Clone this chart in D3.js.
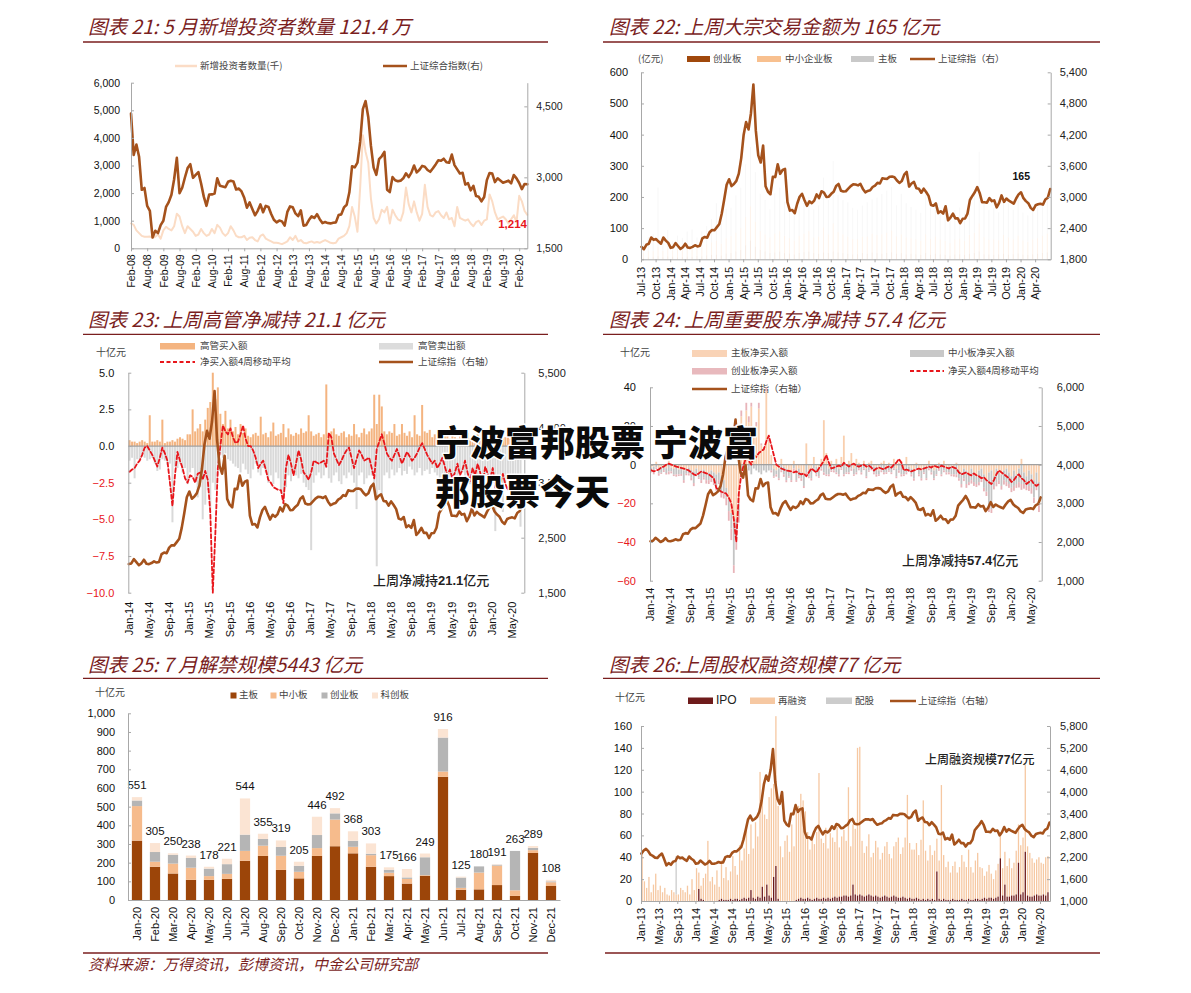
<!DOCTYPE html>
<html><head><meta charset="utf-8">
<script src="https://cdn.jsdelivr.net/npm/d3@7"></script>
<style>
body{margin:0;background:#fff;}
svg{display:block;background:#fff;}
</style></head><body>
<svg id="c" width="1191" height="993"></svg>
<script>
// ---------------- DATA ----------------
// Panel 21: monthly, Feb-08 .. May-20
const labels21 = ["Feb-08","Aug-08","Feb-09","Aug-09","Feb-10","Aug-10","Feb-11","Aug-11","Feb-12","Aug-12","Feb-13","Aug-13","Feb-14","Aug-14","Feb-15","Aug-15","Feb-16","Aug-16","Feb-17","Aug-17","Feb-18","Aug-18","Feb-19","Aug-19","Feb-20"];
const newInvestors = [
 900,850,650,550,450,420,420,430,380,420,500,
 350,650,780,700,650,800,1250,1150,800,550,800,700,
 600,450,500,700,550,450,500,700,550,850,750,550,
 450,550,800,650,450,400,400,450,300,380,400,300,
 250,450,500,350,300,250,200,200,180,150,200,250,
 400,300,450,250,300,200,180,220,250,200,230,200,
 250,300,250,200,180,200,350,400,450,550,800,1500,
 1150,600,2200,4100,3500,3100,1800,1100,900,1050,1400,1300,
 1500,900,1400,1200,1050,1000,1300,2200,1600,1300,1700,1300,
 1000,1250,2300,1500,1200,1150,1300,1350,1200,1100,1300,1050,
 1100,800,1500,1100,1050,1000,1050,900,800,950,1000,850,
 1000,1050,1950,1700,1300,1050,1100,1150,1050,900,1050,1200,
 950,1900,1700,1350,1214];
const sseMonthly = [
 4348,3473,3693,3433,2736,2775,2397,2293,1729,1871,1821,
 1991,2082,2373,2477,2633,2959,3412,2667,2779,2996,3195,3277,
 2989,3051,3110,2870,2592,2398,2638,2639,2656,2979,2820,2808,
 2791,2905,2928,2912,2743,2762,2701,2568,2359,2469,2333,2199,
 2292,2428,2262,2397,2373,2225,2103,2047,2086,2069,1980,2269,
 2385,2366,2237,2178,2301,1979,1994,2098,2175,2141,2220,2116,
 2033,2056,2033,2026,2039,2048,2202,2217,2364,2420,2683,3235,
 3210,3310,3748,4442,4612,4277,3664,3206,3053,3383,3445,3539,
 2738,2688,3004,2938,2917,2930,2979,3085,3005,3100,3250,3104,
 3159,3242,3223,3155,3117,3192,3273,3361,3349,3393,3317,3307,
 3481,3259,3169,3082,3095,2847,2876,2725,2821,2603,2588,2494,
 2585,2941,3091,3078,2899,2979,2933,2886,2905,2929,2871,3050,
 2977,2880,2750,2860,2852];

// SSE composite, two readings per month from Jan-13 (mid, end) + early Jul-20
const sseHalfMonth = [
 2300,2385,2430,2366,2270,2237,2190,2178,2250,2301,2150,1979,2040,1994,2080,2098,2220,2175,2190,2141,2100,2220,2160,2116,
 2020,2033,2110,2056,2000,2033,2100,2026,2020,2039,2070,2048,2060,2202,2230,2217,2320,2364,2360,2420,2480,2683,2950,3235,
 3340,3210,3250,3310,3450,3748,4200,4442,4300,4612,5166,4277,3800,3664,3990,3206,3100,3053,3390,3383,3630,3445,3520,3539,
 2900,2738,2750,2688,2870,3004,3060,2938,2830,2917,2880,2930,3050,2979,3110,3085,3000,3005,3060,3100,3210,3250,3120,3104,
 3110,3159,3210,3242,3240,3223,3250,3155,3090,3117,3130,3192,3220,3273,3260,3361,3350,3349,3390,3393,3380,3317,3270,3307,
 3430,3481,3200,3259,3290,3169,3160,3082,3160,3095,3020,2847,2830,2876,2690,2725,2680,2821,2550,2603,2680,2588,2590,2494,
 2580,2585,2680,2941,3020,3091,3190,3078,2900,2899,2890,2979,2920,2933,2800,2886,3030,2905,2970,2929,2900,2871,2970,3050,
 3090,2977,2920,2880,2790,2750,2840,2860,2870,2852,2950,2985,3152];

// Panel 22: monthly block trade amounts (亿元), Jul-13 .. Jun-20
const labels22 = ["Jul-13","Oct-13","Jan-14","Apr-14","Jul-14","Oct-14","Jan-15","Apr-15","Jul-15","Oct-15","Jan-16","Apr-16","Jul-16","Oct-16","Jan-17","Apr-17","Jul-17","Oct-17","Jan-18","Apr-18","Jul-18","Oct-18","Jan-19","Apr-19","Jul-19","Oct-19","Jan-20","Apr-20"];
const blockGem = [5,6,8,10,7,9, 8,6,7,9,8,10,9,12,14,15,12,18, 20,25,30,45,60,40,30,25,20,22,25,20, 18,15,20,22,25,20,18,22,20,25,22,20, 18,15,16,20,18,22,20,18,20,22,18,20, 15,18,16,14,20,15,18,16,14,12,15,16, 14,18,20,25,16,15,14,16,18,15,16,18, 15,14,16,18,20,22];
const blockSme = [15,20,18,30,20,25, 20,25,22,30,28,25,30,35,40,45,38,50, 55,60,70,90,110,80,60,55,50,60,65,55, 50,45,55,60,65,50,55,80,60,90,65,60, 55,50,48,52,55,60,58,62,65,70,55,60, 55,50,48,45,60,50,55,48,45,40,48,50, 45,60,65,90,55,48,50,45,60,55,48,58, 45,42,48,50,55,60];
const blockMain = [40,45,55,190,35,60, 30,45,40,50,60,35,50,60,75,120,80,95, 90,120,130,170,190,160,120,110,90,130,140,110, 90,80,95,100,110,90,100,160,110,200,120,110, 110,100,95,100,110,110,120,130,135,140,100,130, 110,100,95,90,130,100,110,95,90,85,95,100, 90,125,140,230,110,95,100,90,125,110,95,115, 90,85,95,100,105,120];

// Panels 23 & 24: two readings per month from Jan-14 (十亿元)
const labels2324 = ["Jan-14","May-14","Sep-14","Jan-15","May-15","Sep-15","Jan-16","May-16","Sep-16","Jan-17","May-17","Sep-17","Jan-18","May-18","Sep-18","Jan-19","May-19","Sep-19","Jan-20","May-20"];
const execBuy = [
 0.4,0.3,0.3,0.2,0.3,0.4,0.3,0.2,2.1,0.3,0.3,0.4,0.3,1.8,0.2,0.3,0.3,0.4,0.3,0.5,0.6,0.5,0.4,0.8,
 0.8,2.5,1.0,1.2,1.5,1.0,1.8,2.6,3.0,5.0,3.2,4.0,2.2,1.5,2.4,1.2,1.8,1.0,1.3,0.8,1.5,0.9,1.2,0.7,
 0.6,0.8,0.9,0.7,2.0,0.8,0.9,0.6,1.0,1.6,0.7,0.8,0.9,1.5,0.6,1.2,0.8,0.7,0.9,0.8,1.2,0.9,1.0,2.1,
 1.0,0.7,0.8,0.9,0.6,0.8,4.2,0.9,1.0,1.2,0.8,0.7,0.9,1.0,0.6,0.8,0.7,1.5,0.8,0.6,0.9,1.2,0.8,1.0,
 1.2,3.5,1.5,3.5,2.7,1.0,0.8,1.0,0.9,1.5,0.7,0.8,1.5,0.9,0.7,1.0,0.6,2.1,0.8,0.7,2.8,1.0,0.9,1.1,
 0.6,0.8,0.5,0.7,0.6,0.9,0.8,0.5,0.7,0.6,0.5,0.8,0.7,0.6,0.9,0.5,0.6,0.7,0.8,0.6,0.5,0.7,0.9,0.6,
 0.5,0.7,0.6,0.8,0.5,0.6,0.7,0.5,0.6,0.8,0.5,0.6];
const execSell = [
 -1.0,-0.8,-2.2,-0.9,-1.0,-0.7,-0.8,-1.0,-0.9,-0.8,-1.2,-1.7,-1.6,-0.9,-1.0,-1.3,-1.2,-5.2,-1.4,-1.5,-1.2,-1.8,-1.5,-2.6,
 -1.8,-1.5,-2.5,-3.5,-2.8,-5.0,-4.0,-3.0,-4.5,-2.5,-3.0,-2.0,-0.6,-0.8,-0.5,-0.9,-1.0,-1.2,-1.4,-1.5,-1.8,-1.2,-1.6,-1.9,
 -2.2,-1.6,-1.2,-1.8,-2.0,-1.5,-1.8,-2.5,-2.0,-2.6,-1.8,-2.2,-3.0,-3.6,-2.8,-2.0,-2.4,-1.8,-2.0,-2.2,-1.9,-2.5,-2.8,-3.0,
 -7.1,-2.5,-2.0,-1.8,-2.2,-2.0,-1.5,-2.2,-2.5,-2.0,-1.8,-2.4,-2.6,-2.0,-2.2,-1.8,-2.0,-2.5,-4.3,-2.0,-1.8,-2.6,-2.2,-2.0,
 -2.0,-2.5,-8.2,-3.0,-3.5,-2.0,-1.8,-2.2,-1.6,-2.0,-1.8,-1.5,-2.0,-1.7,-1.9,-1.4,-1.6,-2.0,-1.8,-1.5,-2.0,-1.7,-1.6,-1.9,
 -1.5,-1.8,-2.0,-2.5,-3.0,-2.6,-2.2,-2.8,-2.4,-2.0,-2.6,-2.2,-1.8,-2.4,-2.0,-2.6,-2.2,-1.8,-2.5,-2.0,-2.8,-2.2,-2.0,-2.5,
 -2.2,-5.8,-2.5,-3.0,-4.5,-2.5,-2.0,-2.8,-2.2,-2.5,-3.0,-5.5];
const execNetMA = [
 -1.75,-1.6,-1.5,-1.2,-1.0,-0.6,-0.1,0.0,-0.3,-0.6,-1.0,-1.4,-0.8,-0.1,-0.5,-1.0,-2.5,-4.1,-2.0,-0.4,-1.0,-1.5,-2.2,-2.5,
 -2.0,-2.1,-2.5,-1.9,-1.8,-2.3,-1.7,-2.3,-4.5,-10.0,-6.0,-1.5,0.0,1.4,1.0,0.8,1.2,0.6,0.2,0.3,0.8,1.4,0.5,0.0,
 0.0,-0.3,-0.8,-1.5,-1.2,-1.0,-1.6,-2.3,-2.5,-2.8,-2.9,-3.0,-3.0,-3.9,-1.5,-0.6,-1.2,-2.0,-1.2,-0.3,-0.9,-1.8,-2.0,-2.3,
 -1.8,-1.0,-1.1,-1.2,-1.1,-1.0,-1.4,0.9,0.6,-0.5,-0.9,-1.3,-1.0,-0.6,-0.3,-0.1,-0.8,-1.5,-0.9,-0.3,-0.6,-1.0,-0.9,-0.8,
 -1.5,-2.2,-0.2,0.3,0.8,0.2,-0.5,-0.8,-1.0,-0.6,-0.2,-0.7,-1.2,-0.8,-0.4,-0.7,-1.0,-0.8,-0.5,-0.1,0.2,-0.2,-0.6,-0.9,
 -1.2,-1.0,-1.5,-1.2,-0.8,-1.4,-2.0,-1.6,-2.2,-1.8,-1.2,-2.0,-1.6,-1.0,-1.8,-2.4,-1.5,-2.0,-1.2,-1.8,-2.6,-1.4,-1.9,-2.2,
 -1.5,-2.8,-3.2,-2.5,-1.9,-2.6,-3.0,-2.2,-2.8,-3.4,-3.0,-3.6];

const holderMain = [
 -1.5,-1.0,1.5,-2.0,-1.2,-0.8,-1.8,2.0,-1.5,-2.2,-1.0,-2.5,-1.8,-3.0,-2.2,-1.5,-2.8,-3.5,-2.0,-4.0,-3.0,-2.5,-5.0,-4.0,
 -3,-4,-5,-4,-6,-8,-12,-18,-25,-30,-28,-20,25,18,28,22,30,15,20,29,10,8,38,12,
 5,-2,-3,-2,3,-1,-2,-3,-4,2,-3,-2,-4,-5,11,-3,-2,4,-1,-3,3,23,6,-2,
 2,-1,3,-2,4,15,-1,2,6,-2,3,1,-1,2,-2,1,2,-1,-1,-3,1,2,-2,1,
 -1,3,-2,1,2,-2,4,-1,-2,-3,1,-2,-3,-1,-2,2,-1,-3,-2,1,-1,2,-2,-1,
 -1,-2,1,-3,-4,-2,-3,-5,-2,-4,-6,-3,-2,-5,-8,-4,-3,-6,-2,-4,-5,-3,-2,-4,
 -6,-3,-5,-2,3,-4,-6,-3,-5,-8,-4,-9];
const holderSme = [
 -2,-3,-1.5,-2.5,-3,-2,-2.5,-3.5,-2,-3,-4,-2.5,-3,-5,-2.5,-3,-4,-6,-3,-2.5,-5,-4,-3,-4,
 -4,-5,-6,-4,-8,-6,-5,-6,-8,-22,-10,-6,-3,-2,-4,-3,-5,-2,-3,-4,-5,-3,-4,-3,
 -3,-4,-2,-5,-3,-4,-6,-3,-4,-2,-5,-4,-3,-6,-4,-3,-5,-2,-4,-3,-2,-4,-5,-3,
 -3,-2,-4,-3,-2,-5,-3,-4,-2,-3,-4,-2,-3,-2,-4,-3,-2,-3,-4,-2,-3,-4,-2,-3,
 -3,-2,-4,-3,-5,-3,-4,-2,-3,-4,-2,-3,-4,-3,-5,-2,-3,-4,-3,-2,-4,-3,-2,-3,
 -4,-3,-5,-4,-6,-5,-7,-4,-6,-5,-4,-6,-5,-7,-6,-18,-20,-5,-7,-4,-6,-5,-7,-6,
 -6,-8,-5,-7,-10,-6,-5,-8,-7,-9,-6,-12];
const holderGem = [
 -0.5,-1,-0.8,-1.2,-0.6,-1,-0.8,-1.5,-1,-0.7,-1.2,-0.9,-1,-1.4,-0.8,-1.1,-1.3,-1.6,-1,-0.9,-1.5,-1.2,-1.8,-2,
 -2,-1.5,-2.5,-2,-3,-3.5,-4,-5,-6,-4,-6,-4,3,2,4,3,2,1,2,3,1,1,2,1,
 -1,-0.8,-1.2,-1,-0.9,-1.3,-1.1,-0.8,-1,-1.2,-0.9,-1,-1.4,-1.1,-0.8,-1,-1.2,-0.9,-1,-0.8,-1.1,-1.3,-0.9,-1,
 -0.8,-1,-0.9,-1.1,-0.7,-1,-0.8,-0.9,-1.2,-0.8,-1,-0.9,-1.1,-0.8,-1,-0.7,-0.9,-1,-1.2,-0.8,-0.9,-1,-0.8,-0.7,
 -0.9,-0.8,-1,-1.2,-1.1,-0.9,-1,-0.8,-1.1,-1.3,-0.9,-1,-1.2,-0.8,-1,-0.9,-1.1,-1,-0.8,-1.2,-1,-0.9,-1.1,-1,
 -1,-1.2,-1.5,-1.3,-1.8,-1.5,-2,-1.6,-1.8,-2,-1.5,-1.7,-2,-1.8,-2.2,-2.5,-2,-1.8,-2.2,-2,-1.9,-2.3,-2.1,-2,
 -2.2,-2.5,-2,-2.8,-3,-2.4,-2.2,-2.6,-3,-2.8,-3.2,-3.5];
const holderNetMA = [
 -2.9,-3.5,-3.0,-2.5,-1.5,-1.0,0.0,0.5,0.0,-0.5,-1.0,-1.3,-1.7,-2.0,-2.5,-3.0,-4.0,-5.0,-5.5,-4.5,-3.5,-4.0,-4.5,-5.0,
 -6.0,-7.0,-12.0,-13.0,-14.0,-14.5,-15.0,-17.0,-20.0,-28.0,-40.0,-15.0,-5.0,0.0,4.0,2.0,0.0,5.0,4.0,6.0,7.0,8.0,12.0,15.0,
 10.0,5.0,0.0,-1.0,-2.0,-2.5,-3.0,-3.2,-3.5,-4.0,-3.5,-4.5,-5.0,-4.5,-6.0,-4.0,-2.0,-3.0,-4.0,-2.0,0.0,2.0,5.0,1.0,
 -2.0,-1.5,-1.0,-0.5,-1.0,1.0,0.0,-1.0,0.0,0.5,-0.5,-1.0,-0.5,0.0,-1.0,-0.5,-1.5,-3.0,-2.0,-1.5,-2.0,-2.5,-1.5,-1.0,
 -1.5,0.0,1.0,3.0,1.0,-3.0,-2.5,-3.0,-3.5,-3.0,-2.5,-2.0,-2.5,-2.0,-1.5,-1.0,-1.5,-0.5,-1.0,-1.5,-0.5,-1.0,-1.5,-2.0,
 -1.0,-1.5,-2.0,-4.0,-5.0,-4.5,-4.0,-5.0,-5.5,-4.5,-5.5,-6.0,-7.0,-6.5,-8.0,-9.0,-10.0,-8.0,-5.0,-3.0,-4.0,-5.0,-6.0,-7.0,
 -9.0,-8.0,-6.0,-5.0,-7.0,-8.0,-10.0,-9.0,-8.0,-10.0,-11.0,-10.0];

// Panel 25: monthly lifting of lock-ups (十亿元)
const months25 = ["Jan-20","Feb-20","Mar-20","Apr-20","May-20","Jun-20","Jul-20","Aug-20","Sep-20","Oct-20","Nov-20","Dec-20","Jan-21","Feb-21","Mar-21","Apr-21","May-21","Jun-21","Jul-21","Aug-21","Sep-21","Oct-21","Nov-21","Dec-21"];
const unlockMain = [318,178,142,108,108,113,210,236,161,116,236,288,250,178,128,88,130,660,55,57,80,22,252,75];
const unlockSme  = [185,27,53,65,20,27,53,55,76,35,42,143,35,62,18,25,3,28,10,90,104,30,15,20];
const unlockGem  = [30,52,47,52,40,52,87,36,47,32,70,33,32,8,16,8,96,182,55,33,5,211,12,5];
const unlockStar = [18,48,8,13,10,29,194,28,35,22,98,28,51,55,13,45,20,46,5,0,2,0,10,8];
const unlockTotal = [551,305,250,238,178,221,544,355,319,205,446,492,368,303,175,166,249,916,125,180,191,263,289,108];

// Panel 26: two readings per month from Jan-13 (十亿元)
const labels26 = ["Jan-13","May-13","Sep-13","Jan-14","May-14","Sep-14","Jan-15","May-15","Sep-15","Jan-16","May-16","Sep-16","Jan-17","May-17","Sep-17","Jan-18","May-18","Sep-18","Jan-19","May-19","Sep-19","Jan-20","May-20"];
const ipoAmt = [
 0,0,0,0,0,0,0,0,0,0,0,0,0,0,0,0,0,0,0,0,0,0,0,0,
 0,11,2,1,0,0,0,0,0,0,1,2,1,1,1,2,1,2,2,1,2,3,2,3,
 10,3,2,4,3,13,4,15,5,3,22,32,2,0,0,0,0,0,0,0,1,2,3,2,
 2,3,2,1,2,3,2,2,3,2,3,2,3,4,3,4,4,5,5,4,5,15,6,5,
 6,5,4,5,6,5,4,5,4,3,4,5,4,3,4,5,4,3,3,4,3,2,3,2,
 2,3,2,1,2,1,2,1,2,1,27,2,1,2,1,1,1,2,1,1,1,2,1,1,
 2,1,1,2,2,1,2,3,2,3,3,2,3,4,39,5,15,4,4,5,5,6,35,6,
 8,45,5,4,4,5,6,5,5,6,5,8];
const refiAmt = [
 45,18,12,22,8,15,25,10,14,8,12,6,5,10,8,6,6,12,10,8,14,6,20,10,
 30,15,12,20,25,55,18,22,15,28,12,35,20,30,18,25,40,30,22,50,35,45,65,40,
 60,45,70,55,115,80,75,60,90,100,85,137,85,50,40,55,60,45,70,50,80,85,95,90,
 80,60,45,55,50,60,115,55,50,65,45,60,55,50,65,45,55,60,50,100,45,55,60,135,
 135,50,40,45,55,35,40,50,45,35,40,45,50,40,35,45,50,55,40,45,55,95,50,45,
 45,50,40,55,90,45,35,50,40,45,30,35,105,40,30,35,25,30,35,25,30,40,35,30,
 45,30,25,35,42,30,28,20,25,30,22,18,25,30,20,25,30,28,35,25,30,40,35,45,
 50,80,45,40,35,30,32,35,30,28,35,33];
const rightsIdx = [15];
const rightsAmt = [35];

// ---------------- STYLE CONSTANTS ----------------
const NUMF = "'Liberation Sans', Arial, sans-serif";
const CNF = "'Noto Sans CJK SC', sans-serif";
const TITLE_C = "#7a1e1e";
const BROWN = "#a5521c";
const RED = "#e8161b";
const AXIS_C = "#a8a8a8";

const svg = d3.select("#c");
svg.append("rect").attr("width",1191).attr("height",993).attr("fill","#fff");

function txt(x, y, s, o = {}) {
  return svg.append("text").attr("x", x).attr("y", y).text(s)
    .attr("font-family", o.ff || CNF).attr("font-size", o.fs || 10)
    .attr("fill", o.fill || "#333").attr("font-weight", o.fw || "normal")
    .attr("font-style", o.it ? "italic" : "normal")
    .attr("text-anchor", o.anchor || "start")
    .attr("dominant-baseline", o.db || "auto");
}
function hline(x1, x2, y, c, w) {
  svg.append("line").attr("x1", x1).attr("x2", x2).attr("y1", y).attr("y2", y).attr("stroke", c).attr("stroke-width", w || 1);
}
function title(x, y, s, lx1, lx2, ly) {
  txt(x, y, s, {fs: 19.5, fill: TITLE_C, it: true});
  hline(lx1, lx2, ly, TITLE_C, 1.3);
}
function styleAxis(g, size, colorFn) {
  g.attr("font-family", NUMF).attr("font-size", size);
  g.select(".domain").attr("stroke", AXIS_C);
  g.selectAll(".tick line").attr("stroke", AXIS_C);
  g.selectAll(".tick text").attr("fill", d => colorFn ? colorFn(d) : "#111");
}
function yAxisL(scale, x, vals, fmt, size, pad, colorFn) {
  const g = svg.append("g").attr("transform", `translate(${x},0)`)
    .call(d3.axisLeft(scale).tickValues(vals).tickFormat(fmt).tickSizeInner(-3).tickSizeOuter(0).tickPadding(pad));
  styleAxis(g, size, colorFn);
  return g;
}
function yAxisR(scale, x, vals, fmt, size, pad) {
  const g = svg.append("g").attr("transform", `translate(${x},0)`)
    .call(d3.axisRight(scale).tickValues(vals).tickFormat(fmt).tickSizeInner(-3).tickSizeOuter(0).tickPadding(pad));
  styleAxis(g, size, () => "#222");
  return g;
}
function xAxisB(scale, y, vals, labels, size, gap, showDomain, tickLen) {
  const g = svg.append("g").attr("transform", `translate(0,${y})`)
    .call(d3.axisBottom(scale).tickValues(vals).tickFormat((d, i) => labels[i]).tickSizeInner(tickLen).tickSizeOuter(0));
  styleAxis(g, size);
  if (!showDomain) g.select(".domain").attr("stroke", "none");
  g.selectAll(".tick text").attr("transform", "rotate(-90)").attr("text-anchor", "end")
    .attr("x", -gap).attr("y", 0).attr("dy", "0.35em");
  return g;
}
function legRect(x, y, w, h, c) { svg.append("rect").attr("x", x).attr("y", y).attr("width", w).attr("height", h).attr("fill", c); }
function legLine(x1, x2, y, c, w, dash) {
  const l = svg.append("line").attr("x1", x1).attr("x2", x2).attr("y1", y).attr("y2", y).attr("stroke", c).attr("stroke-width", w);
  if (dash) l.attr("stroke-dasharray", dash);
}
function drawPath(data, xf, yf, color, width, dash) {
  const p = svg.append("path").datum(data)
    .attr("d", d3.line().x(xf).y(yf))
    .attr("fill", "none").attr("stroke", color).attr("stroke-width", width)
    .attr("stroke-linejoin", "round").attr("stroke-linecap", "round");
  if (dash) p.attr("stroke-dasharray", dash);
  return p;
}
const fmtComma = d3.format(",");
const sseT = sseHalfMonth.map((v, k) => ({t: k * 0.5 + 0.1, v}));

// ================= PANEL 21 =================
title(88, 34, "图表 21: 5 月新增投资者数量 121.4 万", 83, 548, 42);
legLine(175, 197, 66, "#fbdcc6", 2.5);
txt(200, 66, "新增投资者数量(千)", {fs: 9.5, db: "middle", fill: "#444"});
legLine(383, 407, 66, BROWN, 2.5);
txt(410, 66, "上证综合指数(右)", {fs: 9.5, db: "middle", fill: "#444"});
{
  const x = d3.scaleLinear().domain([0, 147]).range([131, 527.3]);
  const yL = d3.scaleLinear().domain([0, 6000]).range([248.3, 82.7]);
  const yR = d3.scaleLinear().domain([1500, 5000]).range([248.3, 82.7]);
  drawPath(newInvestors, (d, i) => x(i), d => yL(d), "#fbdcc5", 2);
  drawPath(sseMonthly, (d, i) => x(i), d => yR(d), BROWN, 2.6);
  yAxisL(yL, 131, d3.range(0, 6001, 1000), fmtComma, 10.5, 11);
  yAxisR(yR, 527.3, [1500, 3000, 4500], fmtComma, 10.5, 9);
  xAxisB(x, 248.3, d3.range(0, 145, 6), labels21, 10.5, 6, true, 3);
  txt(527, 227.7, "1,214", {ff: NUMF, fs: 11.5, fw: "bold", fill: RED, anchor: "end"});
}

// ================= PANEL 22 =================
title(609, 34, "图表 22: 上周大宗交易金额为 165 亿元", 603, 1100, 42);
txt(638, 59, "(亿元)", {fs: 9.5, db: "middle", fill: "#444"});
legRect(687, 56, 23, 6, "#a0480c"); txt(713, 59, "创业板", {fs: 9.5, db: "middle", fill: "#444"});
legRect(757, 56, 24, 6, "#f8c08f"); txt(785, 59, "中小企业板", {fs: 9.5, db: "middle", fill: "#444"});
legRect(851, 56, 23, 6, "#c9c9c9"); txt(878, 59, "主板", {fs: 9.5, db: "middle", fill: "#444"});
legLine(910, 935, 59, BROWN, 2.5); txt(938, 59, "上证综指（右）", {fs: 9.5, db: "middle", fill: "#444"});
{
  const x = d3.scaleLinear().domain([6, 90.2]).range([641, 1050.7]);
  const yL = d3.scaleLinear().domain([0, 600]).range([259.3, 72.3]);
  const yR = d3.scaleLinear().domain([1800, 5400]).range([259.3, 72.3]);
  const rows = blockMain.map((v, m) => ({t: 6 + m + 0.5, gem: blockGem[m], sme: blockSme[m], main: v}));
  const stack = d3.stack().keys(["gem", "sme", "main"])(rows);
  const cols = {gem: "#d0976c", sme: "#f6c49a", main: "#d6d6d6"};
  stack.forEach(s => {
    svg.append("g").selectAll("rect").data(s).join("rect")
      .attr("x", d => x(d.data.t) - 0.5).attr("width", 1)
      .attr("y", d => yL(d[1])).attr("height", d => yL(d[0]) - yL(d[1]))
      .attr("fill", cols[s.key]).attr("opacity", 0.2);
  });
  drawPath(sseT.filter(d => d.t >= 6), d => x(d.t), d => yR(d.v), BROWN, 2.6);
  yAxisL(yL, 641, d3.range(0, 601, 100), d3.format("d"), 11, 13);
  yAxisR(yR, 1050.7, d3.range(1800, 5401, 600), fmtComma, 11, 9);
  xAxisB(x, 259.3, d3.range(6, 88, 3), labels22, 11, 7.5, true, 3);
  txt(1030, 179.5, "165", {ff: NUMF, fs: 10.5, fw: "bold", fill: "#111", anchor: "end"});
}

// ================= PANEL 23 =================
title(88, 327, "图表 23: 上周高管净减持 21.1 亿元", 83, 548, 334.3);
txt(96, 353, "十亿元", {fs: 10, db: "middle", fill: "#444"});
legRect(160, 343, 35, 6.5, "#f4b480"); txt(200, 346, "高管买入额", {fs: 9.5, db: "middle", fill: "#444"});
legRect(379, 343, 34, 6.5, "#dcdcdc"); txt(418, 346, "高管卖出额", {fs: 9.5, db: "middle", fill: "#444"});
legLine(160, 195, 362, RED, 1.8, "4,2.5"); txt(200, 362, "净买入额4周移动平均", {fs: 9.5, db: "middle", fill: "#444"});
legLine(379, 413, 362, BROWN, 2.5); txt(418, 362, "上证综指（右轴）", {fs: 9.5, db: "middle", fill: "#444"});
{
  const x = d3.scaleLinear().domain([12, 90.5]).range([128.3, 524.3]);
  const yL = d3.scaleLinear().domain([-10, 5]).range([592.7, 372.7]);
  const yR = d3.scaleLinear().domain([1500, 5500]).range([592.7, 372.7]);
  const tt = i => 12 + i * 0.5 + 0.25;
  svg.append("g").selectAll("rect").data(execSell).join("rect")
    .attr("x", (d, i) => x(tt(i)) - 1).attr("width", 2)
    .attr("y", yL(0)).attr("height", d => yL(d) - yL(0)).attr("fill", "#d9d9d9");
  svg.append("g").selectAll("rect").data(execBuy).join("rect")
    .attr("x", (d, i) => x(tt(i)) - 1).attr("width", 2)
    .attr("y", d => yL(d)).attr("height", d => yL(0) - yL(d)).attr("fill", "#f4b480");
  hline(128.3, 524.3, yL(0), "#a0a0a0", 1.2);
  drawPath(execNetMA, (d, i) => x(tt(i)), d => yL(d), RED, 1.8, "4,2.5");
  drawPath(sseT.filter(d => d.t >= 12), d => x(d.t), d => yR(d.v), BROWN, 2.6);
  yAxisL(yL, 128.3, d3.range(-10, 5.01, 2.5), d3.format(".1f"), 11, 14, d => d < 0 ? RED : "#111");
  yAxisR(yR, 524.3, [1500, 2500, 3500, 4500, 5500], fmtComma, 11, 14);
  xAxisB(x, 592.7, d3.range(12, 89, 4), labels2324, 11, 9, false, 0);
  const a = txt(373, 585, "", {fs: 13, fill: "#222"});
  a.append("tspan").attr("font-weight", 500).text("上周净减持");
  a.append("tspan").attr("font-family", NUMF).attr("font-weight", "bold").text("21.1");
  a.append("tspan").attr("font-weight", 500).text("亿元");
}

// ================= PANEL 24 =================
title(609, 327, "图表 24: 上周重要股东净减持 57.4 亿元", 603, 1100, 334.3);
txt(620, 353, "十亿元", {fs: 10, db: "middle", fill: "#444"});
legRect(692, 350, 35, 7, "#f9d3b6"); txt(731, 353.5, "主板净买入额", {fs: 9.5, db: "middle", fill: "#444"});
legRect(910, 350, 34, 7, "#c8c8c8"); txt(948, 353.5, "中小板净买入额", {fs: 9.5, db: "middle", fill: "#444"});
legRect(692, 368, 35, 6.5, "#e8b9bd"); txt(731, 371, "创业板净买入额", {fs: 9.5, db: "middle", fill: "#444"});
legLine(910, 944, 371, RED, 1.8, "4,2.5"); txt(948, 371, "净买入额4周移动平均", {fs: 9.5, db: "middle", fill: "#444"});
legLine(692, 727, 389, BROWN, 2.5); txt(731, 389, "上证综指（右轴）", {fs: 9.5, db: "middle", fill: "#444"});
{
  const x = d3.scaleLinear().domain([12, 90.3]).range([650, 1041.7]);
  const yL = d3.scaleLinear().domain([-60, 40]).range([580.7, 387.3]);
  const yR = d3.scaleLinear().domain([1000, 6000]).range([580.7, 387.3]);
  const tt = i => 12 + i * 0.5 + 0.25;
  const rows = holderMain.map((v, i) => ({t: tt(i), main: v, sme: holderSme[i], gem: holderGem[i]}));
  const stack = d3.stack().keys(["main", "sme", "gem"]).offset(d3.stackOffsetDiverging)(rows);
  const cols = {main: "#f9cfae", sme: "#c4c4c4", gem: "#e8b4b9"};
  stack.forEach(s => {
    svg.append("g").selectAll("rect").data(s).join("rect")
      .attr("x", d => x(d.data.t) - 0.9).attr("width", 1.8)
      .attr("y", d => yL(Math.max(d[0], d[1]))).attr("height", d => Math.abs(yL(d[0]) - yL(d[1])))
      .attr("fill", cols[s.key]);
  });
  hline(650, 1041.7, yL(0), "#a0a0a0", 1.2);
  drawPath(holderNetMA, (d, i) => x(tt(i)), d => yL(d), RED, 1.8, "4,2.5");
  drawPath(sseT.filter(d => d.t >= 12), d => x(d.t), d => yR(d.v), BROWN, 2.6);
  yAxisL(yL, 650, d3.range(-60, 41, 20), d3.format("d"), 11, 14, d => d < 0 ? RED : "#111");
  yAxisR(yR, 1041.7, d3.range(1000, 6001, 1000), fmtComma, 11, 15);
  xAxisB(x, 580.7, d3.range(12, 89, 4), labels2324, 11, 7, false, 0);
  const a = txt(902, 565, "", {fs: 13, fill: "#222"});
  a.append("tspan").attr("font-weight", 500).text("上周净减持");
  a.append("tspan").attr("font-family", NUMF).attr("font-weight", "bold").text("57.4");
  a.append("tspan").attr("font-weight", 500).text("亿元");
}

// ================= PANEL 25 =================
title(88, 671.5, "图表 25: 7 月解禁规模5443 亿元", 83, 548, 678.3);
txt(95, 693, "十亿元", {fs: 10, db: "middle", fill: "#444"});
legRect(230.5, 692.5, 6, 6, "#9c4509"); txt(239, 695.5, "主板", {fs: 9.5, db: "middle", fill: "#444"});
legRect(270.5, 692.5, 6, 6, "#f6bb8c"); txt(279, 695.5, "中小板", {fs: 9.5, db: "middle", fill: "#444"});
legRect(321.5, 692.5, 6, 6, "#b5b5b5"); txt(330, 695.5, "创业板", {fs: 9.5, db: "middle", fill: "#444"});
legRect(372, 692.5, 6, 6, "#fbe4d3"); txt(380.5, 695.5, "科创板", {fs: 9.5, db: "middle", fill: "#444"});
{
  const x = d3.scaleBand().domain(months25).range([128, 560]).paddingInner(0.43).paddingOuter(0.215);
  const y = d3.scaleLinear().domain([0, 1000]).range([900, 713.3]);
  const rows = months25.map((m, i) => ({m, main: unlockMain[i], sme: unlockSme[i], gem: unlockGem[i], star: unlockStar[i]}));
  const stack = d3.stack().keys(["main", "sme", "gem", "star"])(rows);
  const cols = {main: "#9c4509", sme: "#f6bb8c", gem: "#b5b5b5", star: "#fbe4d3"};
  stack.forEach(s => {
    svg.append("g").selectAll("rect").data(s).join("rect")
      .attr("x", d => x(d.data.m)).attr("width", x.bandwidth())
      .attr("y", d => y(d[1])).attr("height", d => y(d[0]) - y(d[1]))
      .attr("fill", cols[s.key]);
  });
  svg.append("g").selectAll("text").data(unlockTotal).join("text")
    .attr("x", (d, i) => x(months25[i]) + x.bandwidth() / 2)
    .attr("y", d => y(d) - 8)
    .attr("text-anchor", "middle").attr("font-family", NUMF).attr("font-size", 11.5).attr("fill", "#111")
    .text(d => d);
  yAxisL(y, 128, d3.range(0, 1001, 100), fmtComma, 11, 13);
  xAxisB(x, 900, months25, months25, 11, 7, true, 0);
}

// ================= PANEL 26 =================
title(609, 671.5, "图表 26:上周股权融资规模77 亿元", 603, 1100, 678.3);
txt(615, 698, "十亿元", {fs: 10, db: "middle", fill: "#444"});
legRect(688, 697.5, 25, 6.5, "#6e1b1b"); txt(716, 701, "IPO", {ff: NUMF, fs: 12, db: "middle", fill: "#222"});
legRect(750, 697.5, 25, 6.5, "#f6c8a2"); txt(778, 701, "再融资", {fs: 9.5, db: "middle", fill: "#444"});
legRect(826, 697.5, 26, 6.5, "#cccccc"); txt(855, 701, "配股", {fs: 9.5, db: "middle", fill: "#444"});
legLine(890, 916, 701, BROWN, 2.5); txt(918, 701, "上证综指（右轴）", {fs: 9.5, db: "middle", fill: "#444"});
{
  const x = d3.scaleLinear().domain([0, 90.2]).range([641, 1050]);
  const yL = d3.scaleLinear().domain([0, 160]).range([901, 726]);
  const yR = d3.scaleLinear().domain([1000, 5800]).range([901, 726]);
  const tt = i => i * 0.5 + 0.25;
  const rights = refiAmt.map((v, i) => { const k = rightsIdx.indexOf(i); return k >= 0 ? rightsAmt[k] : 0; });
  const rows = refiAmt.map((v, i) => ({t: tt(i), ipo: ipoAmt[i], refi: v, rights: rights[i]}));
  const stack = d3.stack().keys(["ipo", "refi", "rights"])(rows);
  const cols = {ipo: "#6e1b1b", refi: "#f6c8a2", rights: "#cccccc"};
  ["refi", "rights", "ipo"].forEach(key => {
    const s = stack.find(q => q.key === key);
    svg.append("g").selectAll("rect").data(s).join("rect")
      .attr("x", d => x(d.data.t) - 0.65).attr("width", 1.3)
      .attr("y", d => yL(d[1])).attr("height", d => yL(d[0]) - yL(d[1]))
      .attr("fill", cols[key]);
  });
  drawPath(sseT, d => x(d.t), d => yR(d.v), BROWN, 2.6);
  yAxisL(yL, 641, d3.range(0, 161, 20), d3.format("d"), 11, 9);
  yAxisR(yR, 1050, d3.range(1000, 5801, 600), fmtComma, 11, 10);
  xAxisB(x, 901, d3.range(0, 89, 4), labels26, 11, 7, true, 3);
  const a = txt(925, 764, "", {fs: 12, fill: "#222"});
  a.append("tspan").attr("font-weight", 500).text("上周融资规模");
  a.append("tspan").attr("font-family", NUMF).attr("font-weight", "bold").text("77");
  a.append("tspan").attr("font-weight", 500).text("亿元");
}

// ================= FOOTER =================
hline(83, 548, 953, TITLE_C, 1.3);
hline(605, 1100, 953, TITLE_C, 1.3);
txt(88, 970, "资料来源：万得资讯，彭博资讯，中金公司研究部", {fs: 15, fill: TITLE_C, it: true});

// ================= WATERMARK =================
[["宁波富邦股票 宁波富", 455.5], ["邦股票今天", 504.5]].forEach(([s, y]) => {
  svg.append("text").attr("x", 435).attr("y", y).text(s)
    .attr("font-family", CNF).attr("font-size", 35).attr("font-weight", 900)
    .attr("fill", "#0a0a0a").attr("stroke", "#fff").attr("stroke-width", 3)
    .attr("paint-order", "stroke").attr("stroke-linejoin", "round");
});
</script></body></html>
